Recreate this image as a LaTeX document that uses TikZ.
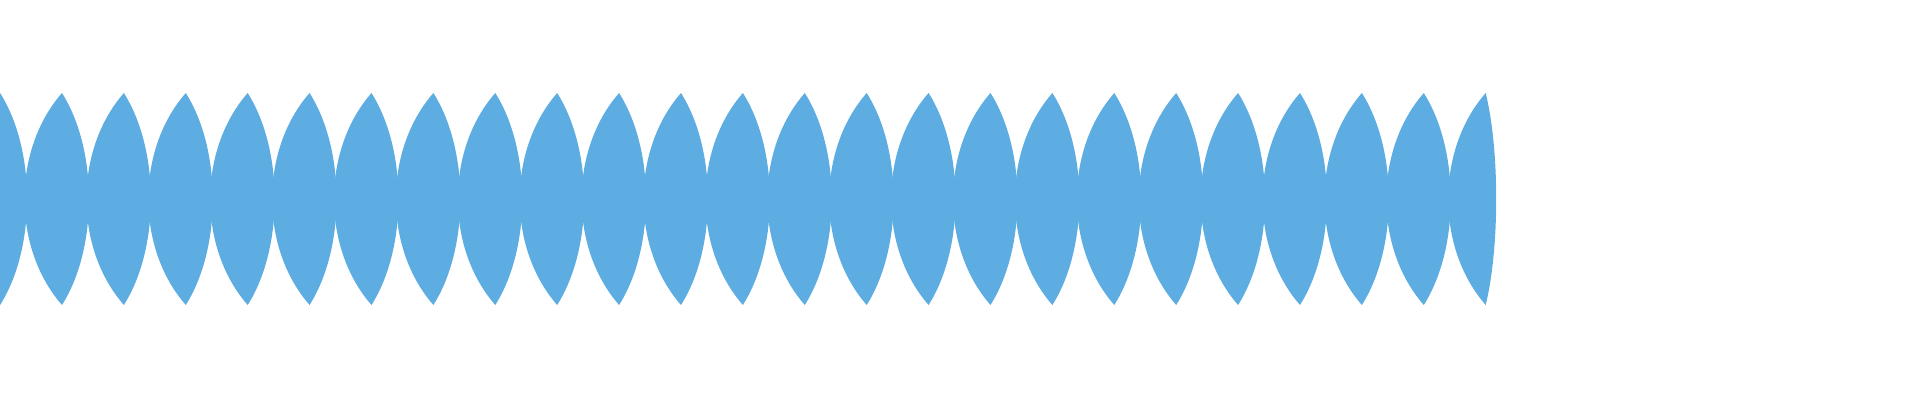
\documentclass[tikz,border=0pt]{standalone}
\begin{document}
\begin{tikzpicture}[x=0.01cm,y=-0.01cm]
\definecolor{lens}{HTML}{5DADE2}
\useasboundingbox (0,0) rectangle (1920,400);
\clip (0,0) rectangle (1920,400);
\foreach \k in {-1,...,22}{
  \pgfmathsetmacro{\t}{62+61.9*\k}
  \fill[lens] (\t,93) .. controls (\t-50,150) and (\t-50,248) .. (\t,305)
     .. controls (\t+36,248) and (\t+36,150) .. (\t,93) -- cycle;
}
\pgfmathsetmacro{\t}{62+61.9*23}
\fill[lens] (\t,93) .. controls (\t-50,150) and (\t-50,248) .. (\t,305)
   .. controls (\t+14,248) and (\t+14,150) .. (\t,93) -- cycle;
\fill[lens] (0,100) rectangle (3,300);
\end{tikzpicture}
\end{document}
